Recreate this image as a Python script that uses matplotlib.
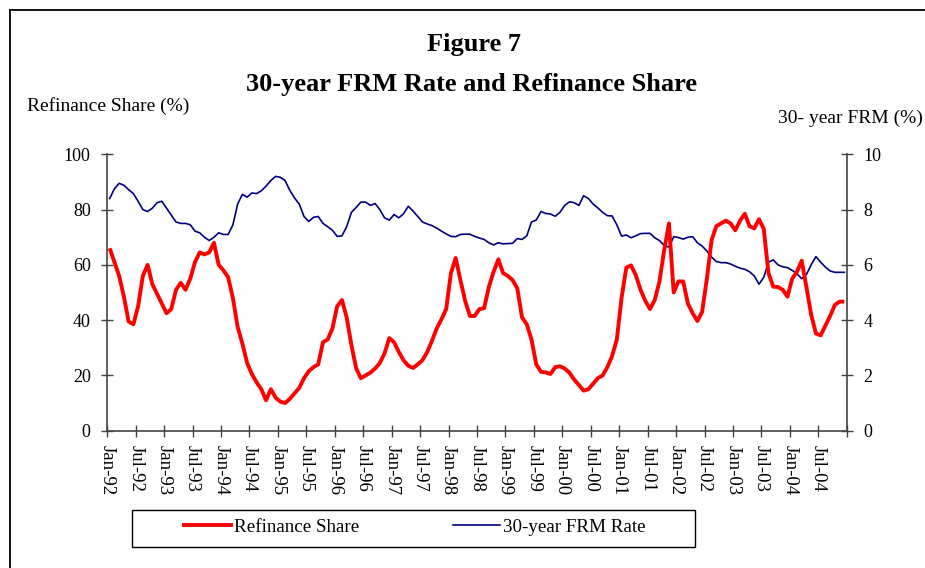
import matplotlib
matplotlib.use("Agg")
import matplotlib.pyplot as plt
from matplotlib.lines import Line2D
from matplotlib.patches import Rectangle

plt.rcParams['font.family'] = ['Liberation Serif', 'DejaVu Serif']

# Monthly data, Jan-92 .. Dec-04
refi_share = [
    66, 61, 56, 48.5, 39.5, 38.5, 45, 56, 60, 53, 49.5, 46,
    42.5, 44, 51, 53.5, 51, 55, 61, 64.5, 63.8, 64.5, 68, 60,
    58, 55.5, 48, 37.5, 31.5, 24.5, 20.5, 17.5, 15, 11, 15, 12,
    10.5, 10, 11.5, 13.5, 15.5, 19, 21.5, 23, 24, 32, 33, 37,
    45, 47.3, 41, 31, 22.6, 19, 20, 21, 22.5, 24.5, 28, 33.5,
    32, 28.5, 25.5, 23.5, 22.7, 24, 25.5, 28.5, 32.5, 37, 40.3, 44,
    57, 62.5, 54.5, 47, 41.5, 41.5, 44, 44.3, 52, 57.5, 62, 57,
    56, 54.5, 51.5, 41, 38.5, 33, 24, 21.3, 21.1, 20.5, 23, 23.3,
    22.5, 21, 18.5, 16.5, 14.5, 15, 17, 19, 20, 23, 27, 33,
    48, 59, 59.8, 56.3, 51, 47, 44, 47.3, 54, 65.4, 75, 50,
    54, 54, 46, 42.5, 39.7, 43, 55, 69, 74, 75, 76, 75,
    72.5, 76, 78.5, 74, 73.2, 76.5, 73, 57, 52.1, 52, 51, 48.5,
    55, 57.5, 61.5, 52, 42, 35.2, 34.5, 38, 41.5, 45.5, 46.7, 46.7,
]

frm_rate = [
    8.4, 8.75, 8.95, 8.88, 8.72, 8.58, 8.3, 8.0, 7.93, 8.05, 8.25, 8.3,
    8.05, 7.8, 7.55, 7.5, 7.5, 7.45, 7.22, 7.16, 7.0, 6.88, 7.0, 7.16,
    7.1, 7.1, 7.45, 8.2, 8.55, 8.45, 8.6, 8.58, 8.68, 8.85, 9.05, 9.2,
    9.17, 9.05, 8.7, 8.42, 8.2, 7.75, 7.57, 7.72, 7.75, 7.5, 7.38, 7.25,
    7.03, 7.05, 7.38, 7.9, 8.08, 8.27, 8.27, 8.15, 8.22, 8.0, 7.7, 7.62,
    7.82, 7.7, 7.85, 8.12, 7.95, 7.75, 7.55, 7.48, 7.42, 7.33, 7.22, 7.12,
    7.03, 7.02, 7.1, 7.11, 7.11, 7.03, 6.97, 6.92, 6.8, 6.72, 6.8, 6.76,
    6.77, 6.78, 6.95, 6.92, 7.05, 7.55, 7.62, 7.93, 7.86, 7.84, 7.76, 7.9,
    8.15, 8.28, 8.25, 8.15, 8.5, 8.4, 8.2, 8.06, 7.9, 7.78, 7.77, 7.45,
    7.04, 7.08, 6.98, 7.05, 7.13, 7.14, 7.14, 6.98, 6.88, 6.7, 6.64, 7.02,
    6.99, 6.93, 7.0, 7.02, 6.8, 6.68, 6.5, 6.28, 6.12, 6.08, 6.08, 6.03,
    5.95, 5.88, 5.84, 5.75, 5.6, 5.3, 5.55, 6.1, 6.18, 6.0, 5.93, 5.9,
    5.8, 5.68, 5.5, 5.65, 6.0, 6.3, 6.1, 5.92, 5.78, 5.73, 5.73, 5.73,
]

years = ['92', '93', '94', '95', '96', '97', '98', '99', '00', '01', '02', '03', '04']
tick_labels = []
for y in years:
    tick_labels += ['Jan-' + y, 'Jul-' + y]

W, H = 925, 568
fig = plt.figure(figsize=(W / 100, H / 100), dpi=100)

def fx(px):
    return px / W

def fy(py):
    return 1 - py / H

ax_l, ax_r, ax_t, ax_b = 107.3, 846.7, 154.3, 430.7
ax = fig.add_axes([fx(ax_l), fy(ax_b), fx(ax_r - ax_l), (ax_b - ax_t) / H])
ax2 = ax.twinx()

n = len(refi_share)
x = [i + 0.5 for i in range(n)]

ax2.plot(x, frm_rate, color='#000080', lw=1.2, solid_joinstyle='round')
ax.plot(x, refi_share, color='#FF0000', lw=2.8, solid_joinstyle='round', solid_capstyle='butt')

ax.set_zorder(ax2.get_zorder() + 1)
ax.patch.set_visible(False)

ax.set_xlim(0, n)
ax.set_ylim(0, 100)
ax2.set_ylim(0, 10)

ax.set_xticks(list(range(0, n + 1, 6)))
ax.set_xticklabels(tick_labels + [''], rotation=270, ha='center', va='top')
ax.set_yticks([0, 20, 40, 60, 80, 100])
ax2.set_yticks([0, 2, 4, 6, 8, 10])

axis_col = '#444444'
for a in (ax, ax2):
    for s in a.spines.values():
        s.set_visible(False)
ax.spines['left'].set_visible(True)
ax.spines['bottom'].set_visible(True)
ax.spines['right'].set_visible(True)
for s in ('left', 'bottom', 'right'):
    ax.spines[s].set_color(axis_col)
    ax.spines[s].set_linewidth(1.2)

ax.tick_params(axis='x', direction='inout', length=9, width=1, color=axis_col,
               labelsize=13.5, pad=6)
ax.tick_params(axis='y', direction='inout', length=9, width=1, color=axis_col,
               labelsize=13, pad=7.5)
ax2.tick_params(axis='y', direction='inout', length=9, width=1, color=axis_col,
                labelsize=13, pad=7.5)

# Titles and axis captions
fig.text(fx(474), fy(50.5), 'Figure 7', fontsize=19, fontweight='bold',
         ha='center', va='baseline')
fig.text(fx(471.5), fy(90.5), '30-year FRM Rate and Refinance Share', fontsize=19,
         fontweight='bold', ha='center', va='baseline')
fig.text(fx(27), fy(111), 'Refinance Share (%)', fontsize=14, ha='left', va='baseline')
fig.text(fx(777.7), fy(123), '30- year FRM (%)', fontsize=14, ha='left', va='baseline')

# Legend
handles = [Line2D([], [], color='#FF0000', lw=2.8),
           Line2D([], [], color='#000080', lw=1.2)]
fig.legend(handles, ['Refinance Share', '30-year FRM Rate'], ncol=2,
           loc='center', bbox_to_anchor=(fx(415), fy(527)), frameon=False,
           fontsize=13.7, handlelength=2.45, handletextpad=0.2,
           columnspacing=4.9, borderpad=0)
fig.add_artist(Rectangle((fx(132.3), fy(547.3)), fx(695 - 132.3), (547.3 - 510) / H,
                         transform=fig.transFigure, fill=False, edgecolor='black', lw=1.0))

# Outer frame (left and top edges)
fig.add_artist(Line2D([fx(10), fx(10)], [0, fy(10)], transform=fig.transFigure,
                      color='black', lw=1.3))
fig.add_artist(Line2D([fx(10), 1], [fy(10), fy(10)], transform=fig.transFigure,
                      color='black', lw=1.3))

fig.savefig('out.png', dpi=100)
